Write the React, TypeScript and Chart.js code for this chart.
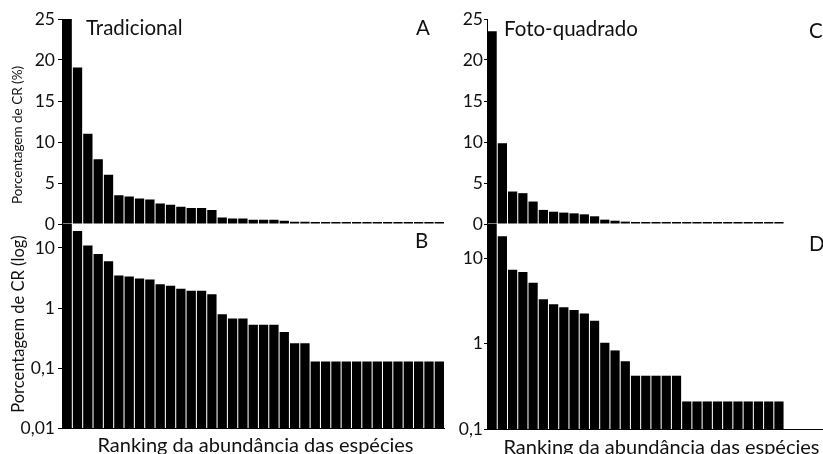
import React, { useEffect, useRef } from "react";
import { Chart, registerables } from "chart.js";

Chart.register(...registerables);

// ---------- data ----------
// Tradicional: % of CR by species abundance rank (panels A and B)
const tradicionalPct = [
  25, 19.1, 11, 7.9, 6.0, 3.5, 3.35, 3.1, 3.0, 2.5, 2.35, 2.1, 1.95, 1.95, 1.7,
  0.79, 0.67, 0.67, 0.53, 0.53, 0.53, 0.4, 0.26, 0.26,
  0.13, 0.13, 0.13, 0.13, 0.13, 0.13, 0.13, 0.13, 0.13, 0.13, 0.13, 0.13, 0.13,
];
// Foto-quadrado, linear panel (C)
const fotoPct = [
  23.5, 9.85, 3.96, 3.76, 2.74, 1.72, 1.5, 1.39, 1.3, 1.18, 0.94, 0.53, 0.4, 0.29,
  0.2, 0.2, 0.2, 0.2, 0.2,
  0.1, 0.1, 0.1, 0.1, 0.1, 0.1, 0.1, 0.1, 0.1, 0.1,
];
// Foto-quadrado, log panel (D) as drawn
const fotoLog = [
  25, 18, 7.3, 6.85, 5.15, 3.3, 2.87, 2.65, 2.47, 2.25, 1.85, 1.02, 0.83, 0.62,
  0.42, 0.42, 0.42, 0.42, 0.42,
  0.21, 0.21, 0.21, 0.21, 0.21, 0.21, 0.21, 0.21, 0.21, 0.21,
];

const linearTicks = [0, 5, 10, 15, 20, 25];
const logTicksB = [0.01, 0.1, 1, 10];
const logTicksD = [0.1, 1, 10];

const panelTitles = ["Tradicional", "Foto-quadrado"];
const panelLetters = ["A", "B", "C", "D"];
const yTitles = ["Porcentagem de CR (%)", "Porcentagem de CR (log)"];
const xTitle = "Ranking da abundância das espécies";

// ---------- layout ----------
const W = 823;
const H = 454;
const FONT = "Lato";
const TEXT = "#111";

type Panel = {
  values: number[];
  slots: number;
  yType: "linear" | "logarithmic";
  yMin: number;
  yMax: number;
  yTicks: number[];
  area: { left: number; top: number; right: number; bottom: number };
  xBorder: boolean;
  tickLen: number;
  tickPad: number;
  minBar: number;
};

const panels: Panel[] = [
  {
    values: tradicionalPct, slots: 37, yType: "linear", yMin: 0, yMax: 25, yTicks: linearTicks,
    area: { left: 62, top: 19, right: 444.5, bottom: 224 }, xBorder: false, tickLen: 4, tickPad: 3, minBar: 2,
  },
  {
    values: tradicionalPct, slots: 37, yType: "logarithmic", yMin: 0.01, yMax: 25, yTicks: logTicksB,
    area: { left: 62, top: 224, right: 444.5, bottom: 428.5 }, xBorder: true, tickLen: 4, tickPad: 3, minBar: 0,
  },
  {
    values: fotoPct, slots: 32.8, yType: "linear", yMin: 0, yMax: 25, yTicks: linearTicks,
    area: { left: 487, top: 19, right: 823, bottom: 224 }, xBorder: false, tickLen: 3, tickPad: 1, minBar: 2,
  },
  {
    values: fotoLog, slots: 32.8, yType: "logarithmic", yMin: 0.1, yMax: 25, yTicks: logTicksD,
    area: { left: 487, top: 224, right: 823, bottom: 429 }, xBorder: true, tickLen: 3, tickPad: 1, minBar: 0,
  },
];

function PanelChart({ p }: { p: Panel }) {
  const ref = useRef<HTMLCanvasElement | null>(null);
  useEffect(() => {
    if (!ref.current) return;
    const chart = new Chart(ref.current, {
      type: "bar",
      data: {
        datasets: [
          {
            data: p.values.map((v, i) => ({ x: i + 1, y: v })),
            backgroundColor: "#000",
            borderWidth: 0,
            barPercentage: 1,
            categoryPercentage: 0.9,
            minBarLength: p.minBar,
          } as any,
        ],
      },
      options: {
        animation: false,
        responsive: false,
        devicePixelRatio: 1,
        layout: {
          padding: { left: 0, top: p.area.top, right: W - p.area.right, bottom: H - p.area.bottom },
        },
        plugins: { legend: { display: false }, tooltip: { enabled: false } },
        scales: {
          x: {
            type: "linear",
            min: 0.5,
            max: p.slots + 0.5,
            offset: false,
            grid: { display: true, drawOnChartArea: false, drawTicks: false },
            border: { display: p.xBorder, color: "#000", width: 1 },
            ticks: { display: false },
            afterBuildTicks: (s: any) => {
              s.ticks = [];
            },
            afterFit: (s: any) => {
              s.height = 0;
            },
          },
          y: {
            type: p.yType,
            min: p.yMin,
            max: p.yMax,
            afterBuildTicks: (s: any) => {
              s.ticks = p.yTicks.map((v) => ({ value: v }));
            },
            afterFit: (s: any) => {
              s.width = p.area.left;
            },
            grid: {
              drawOnChartArea: false,
              drawTicks: true,
              tickLength: p.tickLen,
              color: "#000",
              tickColor: "#000",
              lineWidth: 1,
            },
            border: { display: true, color: "#000", width: 1 },
            ticks: {
              color: TEXT,
              padding: p.tickPad,
              font: { family: FONT, size: 17.5 },
              callback: (v: any) => String(v).replace(".", ","),
            },
          } as any,
        },
      } as any,
    });
    return () => chart.destroy();
  }, [p]);
  return (
    <canvas
      ref={ref}
      width={W}
      height={H}
      style={{ position: "absolute", left: 0, top: 0, width: W, height: H }}
    />
  );
}

// baseline-positioned text (Lato ascent ~0.987em, descent ~0.213em)
function Txt(props: {
  x: number;
  base: number;
  size: number;
  text: string;
  center?: boolean;
}) {
  const { x, base, size, text, center } = props;
  return (
    <div
      style={{
        position: "absolute",
        left: x,
        top: base - 0.887 * size,
        fontFamily: FONT,
        fontSize: size,
        lineHeight: `${size}px`,
        whiteSpace: "nowrap",
        color: TEXT,
        transform: center ? "translateX(-50%)" : undefined,
      }}
    >
      {text}
    </div>
  );
}

function VTxt(props: { cx: number; cy: number; size: number; text: string }) {
  const { cx, cy, size, text } = props;
  return (
    <div
      style={{
        position: "absolute",
        left: cx,
        top: cy,
        fontFamily: FONT,
        fontSize: size,
        lineHeight: `${size}px`,
        whiteSpace: "nowrap",
        color: TEXT,
        transform: "translate(-50%, -50%) rotate(-90deg)",
      }}
    >
      {text}
    </div>
  );
}

export default function App() {
  return (
    <div
      style={{
        position: "fixed",
        left: 0,
        top: 0,
        width: W,
        height: H,
        overflow: "hidden",
        background: "#fff",
      }}
    >
      {panels.map((p, i) => (
        <PanelChart key={i} p={p} />
      ))}
      <Txt x={86} base={35} size={20.5} text={panelTitles[0]} />
      <Txt x={504} base={36} size={20.5} text={panelTitles[1]} />
      <Txt x={416} base={35} size={20.5} text={panelLetters[0]} />
      <Txt x={415} base={248} size={20.5} text={panelLetters[1]} />
      <Txt x={809} base={38} size={20.5} text={panelLetters[2]} />
      <Txt x={809} base={251.5} size={20.5} text={panelLetters[3]} />
      <VTxt cx={18} cy={135} size={13.5} text={yTitles[0]} />
      <VTxt cx={18} cy={323.5} size={16.5} text={yTitles[1]} />
      <Txt x={255.5} base={452} size={20} text={xTitle} center />
      <Txt x={661.5} base={454} size={20} text={xTitle} center />
    </div>
  );
}
